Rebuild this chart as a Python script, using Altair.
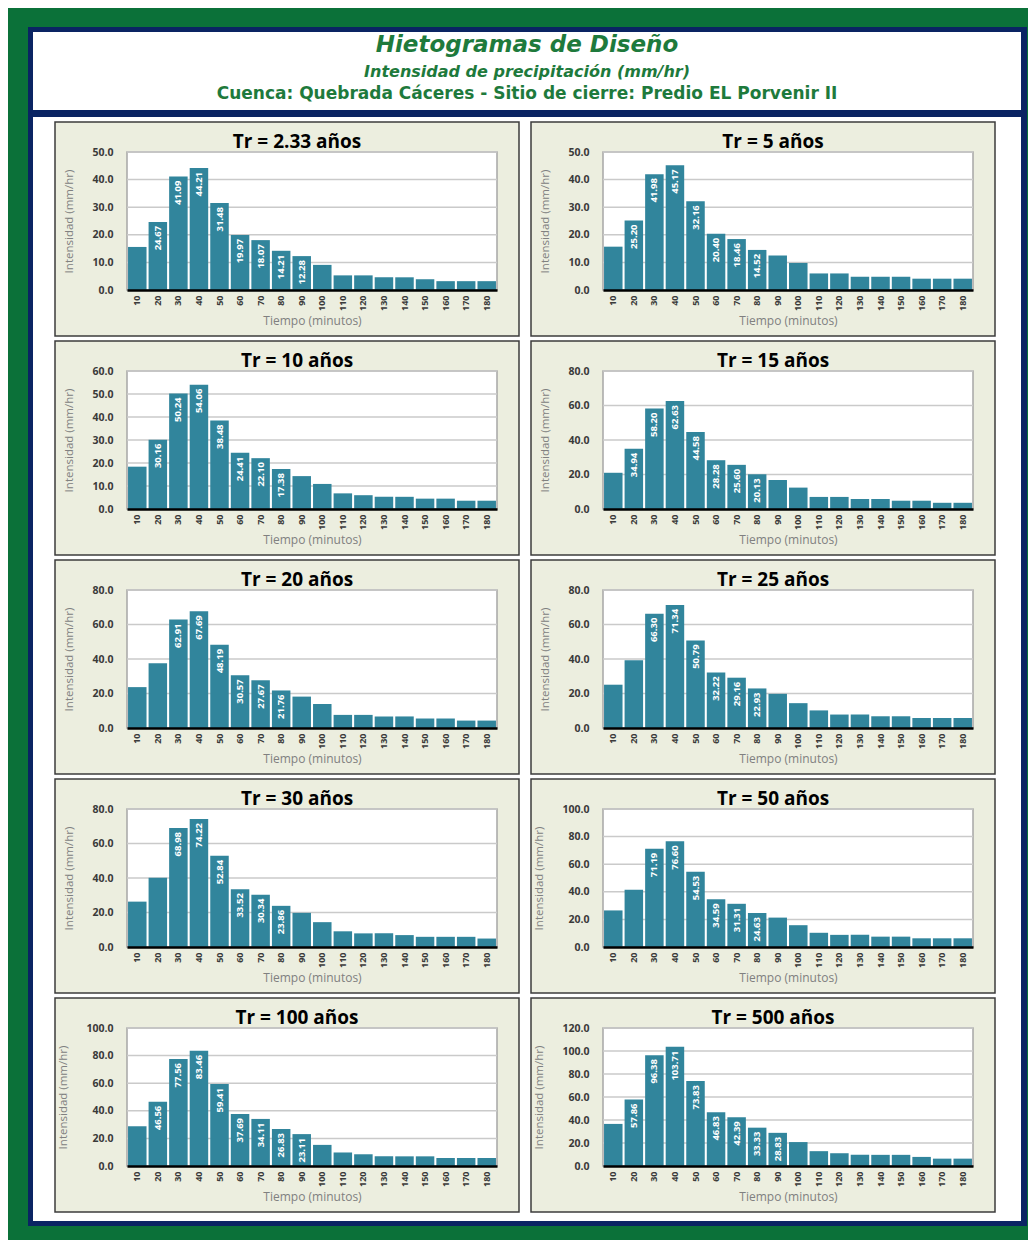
import altair as alt
import pandas as pd

# ---------------- data ----------------
TIEMPO = [10, 20, 30, 40, 50, 60, 70, 80, 90, 100, 110, 120, 130, 140, 150, 160, 170, 180]
TR = ["2.33", "5", "10", "15", "20", "25", "30", "50", "100", "500"]

INT_TR_2_33 = [15.6, 24.67, 41.09, 44.21, 31.48, 19.97, 18.07, 14.21, 12.28, 9.1, 5.3, 5.3, 4.6, 4.6, 3.9, 3.2, 3.2, 3.2]
INT_TR_5 = [15.7, 25.20, 41.98, 45.17, 32.16, 20.40, 18.46, 14.52, 12.5, 9.8, 6.0, 6.0, 4.8, 4.8, 4.8, 4.1, 4.1, 4.1]
INT_TR_10 = [18.4, 30.16, 50.24, 54.06, 38.48, 24.41, 22.10, 17.38, 14.3, 10.9, 6.8, 6.0, 5.3, 5.3, 4.5, 4.5, 3.6, 3.6]
INT_TR_15 = [21.0, 34.94, 58.20, 62.63, 44.58, 28.28, 25.60, 20.13, 16.8, 12.4, 7.0, 7.0, 5.8, 5.8, 4.8, 4.8, 3.6, 3.6]
INT_TR_20 = [23.7, 37.5, 62.91, 67.69, 48.19, 30.57, 27.67, 21.76, 18.2, 13.9, 7.6, 7.6, 6.7, 6.7, 5.5, 5.5, 4.3, 4.3]
INT_TR_25 = [25.1, 39.3, 66.30, 71.34, 50.79, 32.22, 29.16, 22.93, 19.8, 14.4, 10.2, 7.8, 7.8, 6.8, 6.8, 5.8, 5.8, 5.8]
INT_TR_30 = [26.3, 40.1, 68.98, 74.22, 52.84, 33.52, 30.34, 23.86, 19.8, 14.4, 9.1, 7.9, 7.9, 6.9, 5.9, 5.9, 5.9, 4.9]
INT_TR_50 = [26.5, 41.5, 71.19, 76.60, 54.53, 34.59, 31.31, 24.63, 21.3, 15.8, 10.3, 8.8, 8.8, 7.5, 7.5, 6.3, 6.3, 6.3]
INT_TR_100 = [28.8, 46.56, 77.56, 83.46, 59.41, 37.69, 34.11, 26.83, 23.11, 15.3, 9.8, 8.5, 7.0, 7.0, 7.0, 5.8, 5.8, 5.8]
INT_TR_500 = [36.6, 57.86, 96.38, 103.71, 73.83, 46.83, 42.39, 33.33, 28.83, 20.8, 12.9, 11.1, 9.7, 9.7, 9.7, 7.9, 6.4, 6.4]

# bars (minutes) that carry a value label
ETIQ_TR_2_33 = [20, 30, 40, 50, 60, 70, 80, 90]
ETIQ_TR_5 = [20, 30, 40, 50, 60, 70, 80]
ETIQ_TR_10 = [20, 30, 40, 50, 60, 70, 80]
ETIQ_TR_15 = [20, 30, 40, 50, 60, 70, 80]
ETIQ_TR_20 = [30, 40, 50, 60, 70, 80]
ETIQ_TR_25 = [30, 40, 50, 60, 70, 80]
ETIQ_TR_30 = [30, 40, 50, 60, 70, 80]
ETIQ_TR_50 = [30, 40, 50, 60, 70, 80]
ETIQ_TR_100 = [20, 30, 40, 50, 60, 70, 80, 90]
ETIQ_TR_500 = [20, 30, 40, 50, 60, 70, 80, 90]

Y_MAX = [50, 50, 60, 80, 80, 80, 80, 100, 100, 120]
Y_PASO = [10, 10, 10, 20, 20, 20, 20, 20, 20, 20]

TITULO = "Hietogramas de Diseño"
SUBTITULO = "Intensidad de precipitación (mm/hr)"
CUENCA = "Cuenca: Quebrada Cáceres  -  Sitio de cierre: Predio EL Porvenir II"

SERIES = [INT_TR_2_33, INT_TR_5, INT_TR_10, INT_TR_15, INT_TR_20,
          INT_TR_25, INT_TR_30, INT_TR_50, INT_TR_100, INT_TR_500]
ETIQS = [ETIQ_TR_2_33, ETIQ_TR_5, ETIQ_TR_10, ETIQ_TR_15, ETIQ_TR_20,
         ETIQ_TR_25, ETIQ_TR_30, ETIQ_TR_50, ETIQ_TR_100, ETIQ_TR_500]

# ---------------- style ----------------
W, H = 370, 138
GAP_X, GAP_Y = 106, 81
FONT = "Open Sans"
HFONT = "DejaVu Sans"
GREEN = "#0B7139"
NAVY = "#0A2463"
TXT_GREEN = "#1E7A3C"
PANEL_BG = "#ECEEDF"
BAR = "#31859C"

ONE = pd.DataFrame({"k": [0]})


def rect(x1, x2, y1, y2, **kw):
    return alt.Chart(ONE).mark_rect(**kw).encode(
        x=alt.value(x1), x2=alt.value(x2), y=alt.value(y1), y2=alt.value(y2))


def frame_layers():
    # page frame + header, drawn relative to the first panel's plot origin
    layers = [
        rect(-119, 901, -144, 1088, fill=GREEN),
        rect(-99, 900, -125, 1074, fill=NAVY),
        rect(-94, 894, -120, -42, fill="white"),
        rect(-94, 894, -35, 1069, fill="white"),
    ]
    for txt, size, style, y in [(TITULO, 23, "italic", -107),
                                (SUBTITULO, 16, "italic", -80),
                                (CUENCA, 17, "normal", -58)]:
        layers.append(alt.Chart(ONE).mark_text(
            text=txt, font=HFONT, fontSize=size, fontStyle=style, fontWeight="bold",
            color=TXT_GREEN, align="center", baseline="middle").encode(
            x=alt.value(400), y=alt.value(y)))
    return layers


def panel(tr, vals, etiq, ymax, step, extra=None):
    df = pd.DataFrame({"t": TIEMPO, "v": vals})
    df["lbl"] = [f"{v:.2f}" if t in etiq else "" for t, v in zip(TIEMPO, vals)]
    ticks = list(range(0, ymax + 1, step))
    grid_df = pd.DataFrame({"g": ticks[1:]})
    yscale = alt.Scale(domain=[0, ymax], nice=False, zero=True)
    xscale = alt.Scale(paddingInner=0.1, paddingOuter=0.05)
    yaxis = alt.Axis(title="Intensidad (mm/hr)", values=ticks, format=".1f",
                     labelFont=FONT, labelFontSize=10.5, labelFontWeight="bold",
                     labelColor="#3A3A3A", domain=False, ticks=False, grid=False,
                     labelPadding=14, labelOverlap=False, labelBound=False,
                     titleFont=FONT, titleFontSize=11.5, titleColor="#808080",
                     titleFontWeight="normal", titlePadding=17, zindex=1)
    xaxis = alt.Axis(title="Tiempo (minutos)", labelAngle=270, labelFontSize=9,
                     labelFont=FONT, labelColor="#3A3A3A", labelFontWeight="bold",
                     ticks=False, domainColor="black", domainWidth=2.5,
                     labelPadding=5, labelOverlap=False, titleFont=FONT,
                     titleFontSize=12, titleColor="#808080",
                     titleFontWeight="normal", titlePadding=5, grid=False, zindex=1)

    bg = rect(-72, W + 22, -30, H + 46, fill=PANEL_BG, stroke="#3C3C3C", strokeWidth=1.5)
    plot = rect(0, W, 0, H, fill="white", stroke="#A6A6A6", strokeWidth=1.5)
    title = alt.Chart(ONE).mark_text(
        text=f"Tr = {tr} años", font=FONT, fontSize=19, fontWeight="bold", color="black",
        align="center", baseline="middle").encode(x=alt.value(W / 2 - 15), y=alt.value(-10))
    grid = alt.Chart(grid_df).mark_rule(color="#CACACA", strokeWidth=1.5).encode(
        y=alt.Y("g:Q", scale=yscale, axis=yaxis),
        x=alt.value(0), x2=alt.value(W))
    bars = alt.Chart(df).mark_bar(color=BAR).encode(
        x=alt.X("t:O", scale=xscale, sort="ascending", axis=xaxis),
        y=alt.Y("v:Q", scale=yscale, axis=yaxis))
    labels = alt.Chart(df).transform_filter("datum.lbl != ''").mark_text(
        angle=270, align="right", baseline="middle", dx=-4, color="white",
        fontWeight="bold", fontSize=9.5, font=FONT).encode(
        x=alt.X("t:O", scale=xscale, sort="ascending", axis=xaxis),
        y=alt.Y("v:Q", scale=yscale, axis=yaxis),
        text="lbl:N")
    layers = (extra or []) + [bg, plot, title, grid, bars, labels]
    return alt.layer(*layers).properties(width=W, height=H)


panels = [panel(TR[i], SERIES[i], ETIQS[i], Y_MAX[i], Y_PASO[i],
                frame_layers() if i == 0 else None) for i in range(10)]

chart = alt.concat(*panels, columns=2, bounds="flush",
                   spacing=alt.RowColnumber(row=GAP_Y, column=GAP_X)).properties(
    padding=0, background=GREEN
).configure_view(strokeWidth=0)

chart.save("out.html", embed_options={"renderer": "svg", "actions": False})
